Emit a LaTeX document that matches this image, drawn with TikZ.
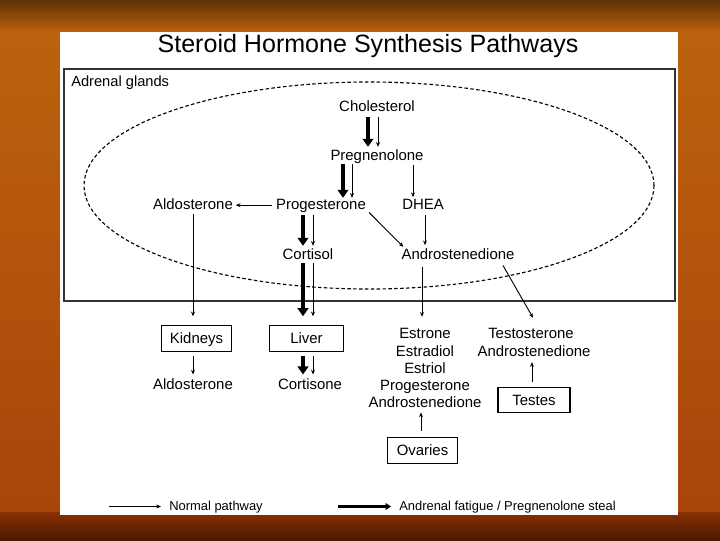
\documentclass[tikz,border=0pt]{standalone}
\usepackage{fontspec}
\setmainfont{Liberation Sans}
\usetikzlibrary{arrows.meta,calc}
\definecolor{bgA}{HTML}{5E3205}
\definecolor{bgB}{HTML}{BC620E}
\definecolor{bgC}{HTML}{A8450A}
\definecolor{bgD}{HTML}{8A3104}
\definecolor{bgE}{HTML}{4A1800}
\begin{document}
\begin{tikzpicture}[x=0.75pt,y=-0.75pt,
  lbl/.style={inner sep=0pt, anchor=base, text height=8.2pt, text depth=2.4pt,
              font=\fontsize{11.2}{13.4}\selectfont},
  organ/.style={draw, line width=0.9pt, minimum height=19pt, inner sep=0pt,
              text height=8pt, text depth=0pt,
              font=\fontsize{11.2}{13.4}\selectfont},
  legtxt/.style={inner sep=0pt, anchor=west, font=\fontsize{9.7}{11.6}\selectfont},
  normal/.style={line width=0.7pt, -{Stealth[length=3.5pt,width=3pt]}},
  steal/.style={line width=3pt, -{Triangle[length=6pt,width=8pt]}},
]
\useasboundingbox (0,0) rectangle (720,540);
% background
\shade[top color=bgA, bottom color=bgB] (0,0) rectangle (720,32);
\shade[top color=bgB, bottom color=bgC] (0,32) rectangle (720,512);
\shade[top color=bgD, bottom color=bgE] (0,512) rectangle (720,540);
% white panel
\fill[white] (60,32) rectangle (678,515);
% title
\node[inner sep=0pt, anchor=base, font=\fontsize{18.8}{22}\selectfont] (title) at (368,52) {Steroid Hormone Synthesis Pathways};
% adrenal box and ellipse
\draw[line width=1pt, black!80] (64,69) rectangle (675,301);
\node[inner sep=0pt, anchor=base west, font=\fontsize{11}{13}\selectfont] (adrenal) at (71,86) {Adrenal glands};
\draw[line width=0.85pt, dash pattern=on 2.6pt off 1.8pt] (369,185.5) ellipse [x radius=285, y radius=103.5];
% text nodes
\node[lbl] (cho)   at (377,111) {Cholesterol};
\node[lbl] (preg)  at (377,160) {Pregnenolone};
\node[lbl] (aldo)  at (193,209) {Aldosterone};
\node[lbl] (prog)  at (321,209) {Progesterone};
\node[lbl] (dhea)  at (423,209) {DHEA};
\node[lbl] (cort)  at (308,259) {Cortisol};
\node[lbl] (andro) at (458,259) {Androstenedione};
\node[organ, minimum width=53pt] (kid)   at (196.5,338.5) {Kidneys};
\node[organ, minimum width=55pt] (liver) at (306.5,338.5) {Liver};
\node[lbl] (aldoB) at (193,389) {Aldosterone};
\node[lbl] (corts) at (310,389) {Cortisone};
\node[lbl] (estrone)   at (425,338) {Estrone};
\node[lbl] (estradiol) at (425,356) {Estradiol};
\node[lbl] (estriol)   at (425,373) {Estriol};
\node[lbl] (progO)     at (425,390) {Progesterone};
\node[lbl] (androO)    at (425,407) {Androstenedione};
\node[lbl] (testo)  at (531,338) {Testosterone};
\node[lbl] (androT) at (534,356) {Androstenedione};
\node[organ, minimum width=54pt] (testes)  at (534,400) {Testes};
\node[organ, minimum width=53pt] (ovaries) at (422.5,450.5) {Ovaries};
% arrows inside adrenal glands
\draw[steal, shorten <=2pt, shorten >=1.5pt] (cho.south -| 368,0) -- (preg.north -| 368,0);
\draw[normal, shorten <=2pt, shorten >=1.5pt] (cho.south -| 378,0) -- (preg.north -| 378,0);
\draw[steal, shorten <=0.5pt, shorten >=0pt] (preg.south -| 343,0) -- (prog.north -| 343,0);
\draw[normal, shorten <=0.5pt, shorten >=0pt] (preg.south -| 352,0) -- (prog.north -| 352,0);
\draw[normal, shorten <=1pt, shorten >=0.5pt] (preg.south -| 413,0) -- (dhea.north -| 413,0);
\draw[normal, shorten <=3pt, shorten >=2pt] (prog.west) -- (aldo.east);
\draw[steal, shorten <=2pt, shorten >=1.5pt] (prog.south -| 303,0) -- (cort.north -| 303,0);
\draw[normal, shorten <=2pt, shorten >=1.5pt] (prog.south -| 313,0) -- (cort.north -| 313,0);
\draw[normal] ($(prog.south east)+(3,0)$) -- ($(andro.north west)+(2,-1)$);
\draw[normal, shorten <=2pt, shorten >=2pt] (dhea.south -| 425,0) -- (andro.north -| 425,0);
% arrows leaving adrenal glands
\draw[normal, shorten <=1.5pt, shorten >=6.75pt] (aldo.south -| 193,0) -- (kid.north -| 193,0);
\draw[steal, shorten <=0.5pt, shorten >=6.75pt] (cort.south -| 303,0) -- (liver.north -| 303,0);
\draw[normal, shorten <=0.5pt, shorten >=6.75pt] (cort.south -| 313,0) -- (liver.north -| 313,0);
\draw[normal, shorten <=3.5pt, shorten >=7.5pt] (andro.south -| 422,0) -- (estrone.north -| 422,0);
\draw[normal] ($(andro.south)+(45,3)$) -- ($(testo.north)+(2,-9)$);
% lower arrows
\draw[normal, shorten <=3.5pt, shorten >=2.5pt] (kid.south -| 193,0) -- (aldoB.north -| 193,0);
\draw[steal, shorten <=3.5pt, shorten >=2.5pt] (liver.south -| 303,0) -- (corts.north -| 303,0);
\draw[normal, shorten <=3.5pt, shorten >=2.5pt] (liver.south -| 313,0) -- (corts.north -| 313,0);
\draw[normal, shorten <=4.5pt, shorten >=1.5pt] (ovaries.north -| 421,0) -- (androO.south -| 421,0);
\draw[normal, shorten <=3.5pt, shorten >=2pt] (testes.north -| 532,0) -- (androT.south -| 532,0);
% legend
\coordinate (l1a) at (109,506.5);
\coordinate (l1b) at (161,506.5);
\coordinate (l2a) at (338,506.5);
\coordinate (l2b) at (391,506.5);
\draw[line width=0.7pt, -{Stealth[length=3.5pt,width=3pt]}] (l1a) -- (l1b);
\draw[line width=2.6pt, -{Triangle[length=4pt,width=5pt]}] (l2a) -- (l2b);
\node[legtxt] (leg1) at (169,507) {Normal pathway};
\node[legtxt] (leg2) at (399,507) {Andrenal fatigue / Pregnenolone steal};
\end{tikzpicture}
\end{document}
